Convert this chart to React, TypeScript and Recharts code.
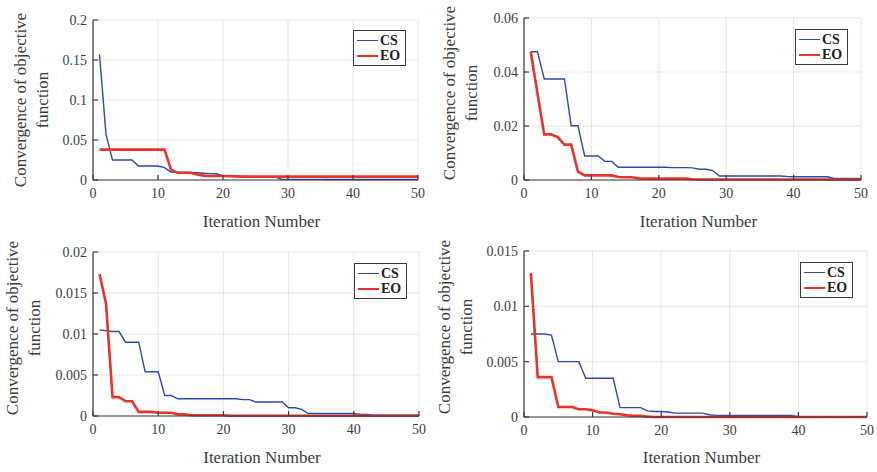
import React from "react";
import { CartesianGrid, Legend, Line, LineChart, XAxis, YAxis } from "recharts";

const ITER = Array.from({ length: 50 }, (_, i) => i + 1);
const X_TICKS = [0, 10, 20, 30, 40, 50];

// panel 1 (top left)
const CS_1 = [
  0.157, 0.057, 0.025, 0.025, 0.025, 0.025, 0.0175, 0.0175, 0.0175, 0.0175,
  0.0155, 0.01, 0.0095, 0.0095, 0.0093, 0.009, 0.0085, 0.008, 0.0078, 0.005,
  0.0048, 0.0045, 0.0044, 0.0043, 0.0042, 0.0041, 0.004, 0.0038, 0.001, 0.0008,
  0.0008, 0.0008, 0.0008, 0.0008, 0.0008, 0.0007, 0.0007, 0.0007, 0.0007, 0.0007,
  0.0007, 0.0007, 0.0006, 0.0006, 0.0006, 0.0006, 0.0006, 0.0006, 0.0006, 0.0006,
];
const EO_1 = [
  0.038, 0.038, 0.038, 0.038, 0.038, 0.038, 0.038, 0.038, 0.038, 0.038,
  0.038, 0.013, 0.009, 0.009, 0.009, 0.007, 0.0055, 0.005, 0.005, 0.005,
  0.0048, 0.0045, 0.0042, 0.0042, 0.0042, 0.0042, 0.0042, 0.0042, 0.0042, 0.0042,
  0.0042, 0.0042, 0.0042, 0.0042, 0.0042, 0.0042, 0.0042, 0.0042, 0.0042, 0.0042,
  0.0042, 0.0042, 0.0042, 0.0042, 0.0042, 0.0042, 0.0042, 0.0042, 0.0042, 0.0042,
];

// panel 2 (top right)
const CS_2 = [
  0.0475, 0.0475, 0.0374, 0.0374, 0.0374, 0.0374, 0.0201, 0.0201, 0.0089, 0.0089,
  0.0089, 0.0069, 0.0069, 0.0047, 0.0047, 0.0047, 0.0047, 0.0047, 0.0047, 0.0047,
  0.0047, 0.0046, 0.0046, 0.0046, 0.0045, 0.004, 0.004, 0.0035, 0.0015, 0.0015,
  0.0015, 0.0015, 0.0015, 0.0015, 0.0015, 0.0015, 0.0015, 0.0015, 0.0013, 0.0012,
  0.0012, 0.0012, 0.0012, 0.0012, 0.0012, 0.0006, 0.0006, 0.0006, 0.0006, 0.0006,
];
const EO_2 = [
  0.0475, 0.032, 0.0169, 0.0169, 0.0159, 0.0131, 0.0131, 0.0031, 0.0017, 0.0017,
  0.0017, 0.0017, 0.0017, 0.0011, 0.001, 0.001, 0.0006, 0.0005, 0.0005, 0.0005,
  0.0005, 0.0005, 0.0005, 0.0005, 0.0003, 0.0002, 0.0002, 0.0002, 0.0002, 0.0002,
  0.0002, 0.0002, 0.0002, 0.0002, 0.0002, 0.0002, 0.0002, 0.0002, 0.0002, 0.0002,
  0.0002, 0.0002, 0.0002, 0.0002, 0.0002, 0.0002, 0.0002, 0.0002, 0.0002, 0.0002,
];

// panel 3 (bottom left)
const CS_3 = [
  0.0105, 0.0104, 0.0103, 0.0103, 0.009, 0.009, 0.009, 0.0054, 0.0054, 0.0054,
  0.0025, 0.0025, 0.0021, 0.0021, 0.0021, 0.0021, 0.0021, 0.0021, 0.0021, 0.0021,
  0.0021, 0.0021, 0.002, 0.002, 0.0017, 0.0017, 0.0017, 0.0017, 0.0017, 0.001,
  0.001, 0.0008, 0.0003, 0.0003, 0.0003, 0.0003, 0.0003, 0.0003, 0.0003, 0.0003,
  0.0002, 0.0002, 0.0001, 0.0001, 0.0001, 0.0001, 0.0001, 0.0001, 0.0001, 0.0001,
];
const EO_3 = [
  0.0173, 0.0137, 0.0023, 0.0023, 0.0018, 0.0018, 0.0005, 0.0005, 0.0005, 0.0004,
  0.0004, 0.0004, 0.0002, 0.0002, 0.0001, 0.0001, 0.0001, 0.0001, 0.0001, 0.0001,
  0.00003, 0.00003, 0.00003, 0.00003, 0.00003, 0.00003, 0.00003, 0.00003, 0.00003, 0.00003,
  0.00003, 0.00003, 0.00003, 0.00003, 0.00003, 0.00003, 0.00003, 0.00003, 0.00003, 0.00003,
  0.00003, 0.00003, 0.00003, 0.00003, 0.00003, 0.00003, 0.00003, 0.00003, 0.00003, 0.00003,
];

// panel 4 (bottom right)
const CS_4 = [
  0.0075, 0.0075, 0.0075, 0.0074, 0.005, 0.005, 0.005, 0.005, 0.0035, 0.0035,
  0.0035, 0.0035, 0.0035, 0.00085, 0.00085, 0.00085, 0.00085, 0.00055, 0.0005, 0.0005,
  0.00045, 0.00035, 0.00035, 0.00035, 0.00035, 0.00035, 0.0002, 0.00015, 0.00015, 0.00015,
  0.00015, 0.00015, 0.00015, 0.00015, 0.00015, 0.00015, 0.00015, 0.00015, 0.00015, 0.00003,
  0.00003, 0.00003, 0.00003, 0.00003, 0.00003, 0.00003, 0.00003, 0.00003, 0.00003, 0.00003,
];
const EO_4 = [
  0.013, 0.0036, 0.0036, 0.0036, 0.0009, 0.0009, 0.0009, 0.0007, 0.0007, 0.0006,
  0.0004, 0.0004, 0.0003, 0.00025, 0.00015, 0.0001, 0.0001, 0.00003, 0, 0,
  0, 0, 0, 0, 0, 0, 0, 0, 0, 0,
  0, 0, 0, 0, 0, 0, 0, 0, 0, 0,
  0, 0, 0, 0, 0, 0, 0, 0, 0, 0,
];

const Y_TICKS_1 = [0, 0.05, 0.1, 0.15, 0.2];
const Y_TICKS_2 = [0, 0.02, 0.04, 0.06];
const Y_TICKS_3 = [0, 0.005, 0.01, 0.015, 0.02];
const Y_TICKS_4 = [0, 0.005, 0.01, 0.015];

const FONT = "Liberation Serif, DejaVu Serif, serif";
const TEXT = "#3c3c3c";
const AXIS = "#3a3a3a";
const BLUE = "#2c4aaa";
const RED = "#e8332b";

interface PanelProps {
  left: number;
  top: number;
  width: number;
  height: number;
  plot: { x0: number; x1: number; y0: number; y1: number };
  yTicks: number[];
  cs: number[];
  eo: number[];
  yTitleX: number;
  yTitleY: number;
  legendX: number;
  legendY: number;
}

function LegendBox({ payload }: any) {
  return (
    <div
      style={{
        border: `1px solid ${AXIS}`,
        background: "#fff",
        padding: "2px 5px 2px 3px",
        fontFamily: FONT,
        fontWeight: "bold",
        fontSize: 14,
        lineHeight: "15px",
        color: "#222",
      }}
    >
      {(payload || []).map((p: any) => (
        <div key={p.value} style={{ display: "flex", alignItems: "center" }}>
          <span
            style={{
              display: "inline-block",
              width: 21,
              height: 0,
              borderTop: `${p.value === "EO" ? 2.5 : 1.5}px solid ${p.color}`,
              marginRight: 2,
            }}
          />
          <span>{p.value}</span>
        </div>
      ))}
    </div>
  );
}

function Panel(props: PanelProps) {
  const { left, top, width, height, plot, yTicks, cs, eo } = props;
  const rows = ITER.map((it, i) => ({ it, cs: cs[i], eo: eo[i] }));
  const yMax = yTicks[yTicks.length - 1];

  // tick labels placed at fixed offsets from the plot box
  const xTick = (p: any) => (
    <text
      x={p.x}
      y={plot.y1 + 18}
      textAnchor="middle"
      style={{ fontFamily: FONT, fontSize: 14, fill: TEXT }}
    >
      {p.payload.value}
    </text>
  );
  const yTick = (p: any) => (
    <text
      x={plot.x0 - 6}
      y={p.y}
      dy={5}
      textAnchor="end"
      style={{ fontFamily: FONT, fontSize: 14, fill: TEXT }}
    >
      {p.payload.value}
    </text>
  );

  return (
    <div style={{ position: "absolute", left, top, width, height, fontFamily: FONT }}>
      <LineChart
        width={width}
        height={height}
        data={rows}
        margin={{ top: plot.y0, right: width - plot.x1, bottom: 0, left: 0 }}
      >
        <CartesianGrid stroke="#e6e6e6" />
        <XAxis
          dataKey="it"
          type="number"
          domain={[0, 50]}
          ticks={X_TICKS}
          interval={0}
          height={height - plot.y1}
          stroke={AXIS}
          strokeWidth={1.2}
          tick={xTick}
          tickSize={-5}
        />
        <XAxis
          xAxisId="top"
          orientation="top"
          dataKey="it"
          type="number"
          domain={[0, 50]}
          ticks={X_TICKS}
          interval={0}
          height={0}
          stroke={AXIS}
          strokeWidth={1.2}
          tick={false}
          tickSize={-5}
        />
        <YAxis
          type="number"
          domain={[0, yMax]}
          ticks={yTicks}
          interval={0}
          width={plot.x0}
          stroke={AXIS}
          strokeWidth={1.2}
          tick={yTick}
          tickSize={-5}
        />
        <YAxis
          yAxisId="right"
          orientation="right"
          type="number"
          domain={[0, yMax]}
          ticks={yTicks}
          interval={0}
          width={0}
          stroke={AXIS}
          strokeWidth={1.2}
          tick={false}
          tickSize={-5}
        />
        <Legend
          layout="horizontal"
          align="center"
          verticalAlign="middle"
          content={<LegendBox />}
          wrapperStyle={{ position: "absolute", left: props.legendX, top: props.legendY, width: "auto" }}
        />
        <Line
          dataKey="cs"
          name="CS"
          stroke={BLUE}
          strokeWidth={1.4}
          dot={false}
          isAnimationActive={false}
        />
        <Line
          dataKey="eo"
          name="EO"
          stroke={RED}
          strokeWidth={2.6}
          dot={false}
          isAnimationActive={false}
        />
      </LineChart>
      {/* axis titles */}
      <svg
        width={width}
        height={height}
        overflow="visible"
        style={{ position: "absolute", left: 0, top: 0, pointerEvents: "none", overflow: "visible" }}
      >
        <text
          x={(plot.x0 + plot.x1) / 2 + 6}
          y={221}
          textAnchor="middle"
          dominantBaseline="central"
          style={{ fontFamily: FONT, fontSize: 17, fill: TEXT }}
        >
          Iteration Number
        </text>
        <text
          transform={`translate(${props.yTitleX},${props.yTitleY}) rotate(-90)`}
          textAnchor="middle"
          style={{ fontFamily: FONT, fontSize: 17, fill: TEXT }}
        >
          <tspan x={0} dy={5}>Convergence of objective</tspan>
          <tspan x={0} dy={22}>function</tspan>
        </text>
      </svg>
    </div>
  );
}

export default function App() {
  return (
    <div
      style={{
        position: "absolute",
        left: 0,
        top: 0,
        width: 877,
        height: 472,
        background: "#fff",
      }}
    >
      <Panel
        left={0}
        top={0}
        width={437}
        height={236}
        plot={{ x0: 93, x1: 418, y0: 20, y1: 180 }}
        yTicks={Y_TICKS_1}
        cs={CS_1}
        eo={EO_1}
        yTitleX={21}
        yTitleY={100}
        legendX={353}
        legendY={30}
      />
      <Panel
        left={437}
        top={0}
        width={440}
        height={236}
        plot={{ x0: 87, x1: 424, y0: 18, y1: 180 }}
        yTicks={Y_TICKS_2}
        cs={CS_2}
        eo={EO_2}
        yTitleX={13}
        yTitleY={93}
        legendX={358}
        legendY={29}
      />
      <Panel
        left={0}
        top={236}
        width={437}
        height={236}
        plot={{ x0: 93, x1: 419, y0: 16, y1: 180 }}
        yTicks={Y_TICKS_3}
        cs={CS_3}
        eo={EO_3}
        yTitleX={13}
        yTitleY={92}
        legendX={354}
        legendY={27}
      />
      <Panel
        left={437}
        top={236}
        width={440}
        height={236}
        plot={{ x0: 87, x1: 430, y0: 15, y1: 181 }}
        yTicks={Y_TICKS_4}
        cs={CS_4}
        eo={EO_4}
        yTitleX={8}
        yTitleY={91}
        legendX={363}
        legendY={26}
      />
    </div>
  );
}
